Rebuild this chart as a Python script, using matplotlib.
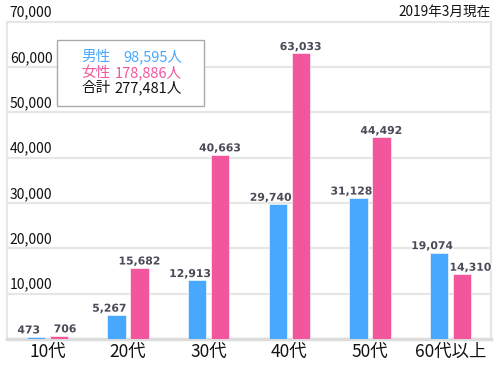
import numpy as np
import matplotlib
matplotlib.use("Agg")
import matplotlib.pyplot as plt
import matplotlib.transforms as mtransforms
import matplotlib.patheffects as pe

plt.rcParams["font.family"] = ["Noto Sans CJK JP", "DejaVu Sans"]

# data
age_groups = ["10代", "20代", "30代", "40代", "50代", "60代以上"]
male = [473, 5267, 12913, 29740, 31128, 19074]
female = [706, 15682, 40663, 63033, 44492, 14310]
y_ticks = [10000, 20000, 30000, 40000, 50000, 60000, 70000]
note = "2019年3月現在"

BLUE = "#48a8fd"
PINK = "#f2579e"
GRID = "#e6e6e6"
LABEL_COLOR = "#4a4a58"

fig = plt.figure(figsize=(5.0, 3.7), dpi=100)
ax = fig.add_axes([0.014, 0.084, 0.968, 0.857])

x = np.arange(len(age_groups))
w = 0.225
off = 0.143
ax.bar(x - off, male, width=w, color=BLUE, edgecolor="white", linewidth=0.4, zorder=3)
ax.bar(x + off, female, width=w, color=PINK, edgecolor="white", linewidth=0.4, zorder=3)

ax.set_xlim(-0.5, len(age_groups) - 0.5)
ax.set_ylim(0, 70000)

# grid + frame
for v in y_ticks[:-1]:
    ax.axhline(v, color=GRID, linewidth=1.5, zorder=1)
for side in ["left", "right", "top"]:
    ax.spines[side].set_color(GRID)
    ax.spines[side].set_linewidth(1.5)
ax.spines["bottom"].set_color("#dcdcdc")
ax.spines["bottom"].set_linewidth(2.5)

ax.set_yticks([])
ax.set_xticks(x)
ax.set_xticklabels(age_groups, fontsize=12.5, color="#111111")
ax.tick_params(axis="x", length=0, pad=3)

# y labels sit inside the plot, just above each grid line
ylab_tr = mtransforms.offset_copy(ax.transData, fig=fig, x=0, y=1.5, units="points")
for v in y_ticks:
    ax.text(-0.465, v, f"{v:,}", transform=ylab_tr, fontsize=10,
            color="#111111", ha="left", va="bottom", clip_on=False)

# value labels
outline = [pe.withStroke(linewidth=1.5, foreground="white")]
male_shift = -5
female_shift = [4.5, 0, 0, 0, 0, 6]
for i in range(len(age_groups)):
    tr = mtransforms.offset_copy(ax.transData, fig=fig, x=male_shift, y=1, units="points")
    ax.text(x[i] - off, male[i], f"{male[i]:,}", transform=tr, ha="center", va="bottom",
            fontsize=7.8, fontweight="bold", family="DejaVu Sans", color=LABEL_COLOR,
            path_effects=outline, zorder=5)
    tr = mtransforms.offset_copy(ax.transData, fig=fig, x=female_shift[i], y=1, units="points")
    ax.text(x[i] + off, female[i], f"{female[i]:,}", transform=tr, ha="center", va="bottom",
            fontsize=7.8, fontweight="bold", family="DejaVu Sans", color=LABEL_COLOR,
            path_effects=outline, zorder=5)

# summary box
box = plt.Rectangle((57 / 500, 1 - 106 / 370), 147 / 500, 66 / 370, transform=fig.transFigure,
                    facecolor="white", edgecolor="#aaaaaa", linewidth=1.0, zorder=10)
fig.patches.append(box)
rows = [("男性", sum(male), BLUE), ("女性", sum(female), PINK), ("合計", sum(male) + sum(female), "#111111")]
for j, (name, total, col) in enumerate(rows):
    yy = 1 - (57 + j * 15.5) / 370
    fig.text(81 / 500, yy, name, color=col, fontsize=10.5, ha="left", va="center", zorder=11)
    fig.text(182 / 500, yy, f"{total:,}人", color=col, fontsize=10.5, ha="right", va="center", zorder=11)

fig.text(491 / 500, 1 - 12 / 370, note, fontsize=9.8, ha="right", va="center", color="#111111")

fig.savefig("out.png", dpi=100)
plt.close(fig)
